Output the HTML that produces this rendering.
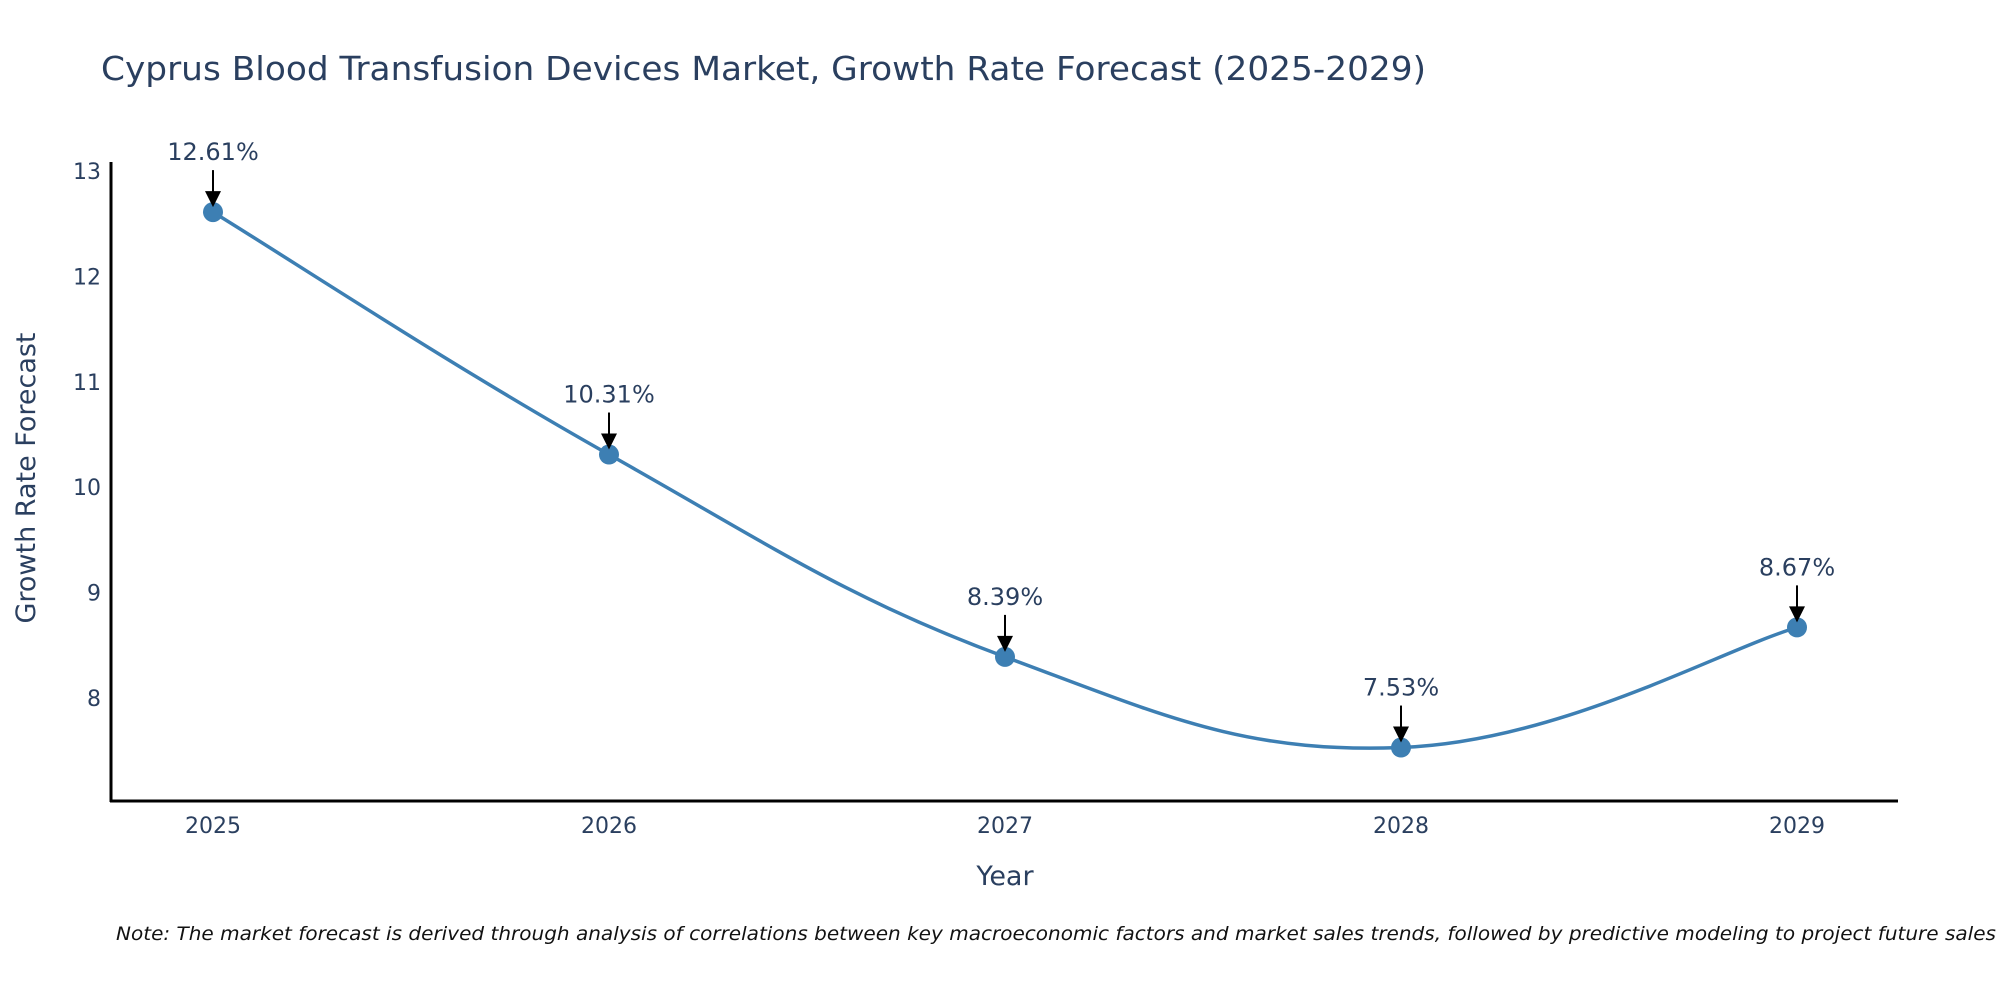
<!DOCTYPE html>
<html><head><meta charset="utf-8"><style>
body{margin:0;background:#fff}
svg text{font-family:"DejaVu Sans","Liberation Sans",sans-serif;fill:#2a3f5f}
</style></head><body>
<svg id="chart" width="2000" height="1000" viewBox="0 0 2000 1000">
<text x="101" y="80" font-size="33" textLength="1325" lengthAdjust="spacingAndGlyphs">Cyprus Blood Transfusion Devices Market, Growth Rate Forecast (2025-2029)</text>
<g id="yticks"></g><g id="xticks"></g>
<path id="line" fill="none" stroke="#3d7fb3" stroke-width="3.5"/>
<g id="points"></g>
<line x1="111" y1="162" x2="111" y2="802" stroke="#000" stroke-width="3"/>
<line x1="110" y1="801" x2="1898" y2="801" stroke="#000" stroke-width="3"/>
<text x="1005" y="885" font-size="27" text-anchor="middle">Year</text>
<text transform="translate(35,478) rotate(-90)" font-size="27" text-anchor="middle">Growth Rate Forecast</text>
<text x="116" y="940" font-size="19" font-style="italic" style="fill:#111" textLength="1880" lengthAdjust="spacingAndGlyphs">Note: The market forecast is derived through analysis of correlations between key macroeconomic factors and market sales trends, followed by predictive modeling to project future sales</text>
</svg>
<script>
const years = [2025, 2026, 2027, 2028, 2029];
const values = [12.61, 10.31, 8.39, 7.53, 8.67];
const labels = ["12.61%", "10.31%", "8.39%", "7.53%", "8.67%"];
const yTicks = [8, 9, 10, 11, 12, 13];
const NS = "http://www.w3.org/2000/svg";
function xs(v){return 213 + (v - 2025) * 396;}
function ys(v){return 698 - (v - 8) * 105.4;}
function mk(tag, attrs, parent){const e=document.createElementNS(NS,tag);for(const k in attrs)e.setAttribute(k,attrs[k]);parent.appendChild(e);return e;}
const yg=document.getElementById('yticks'), xg=document.getElementById('xticks'), pg=document.getElementById('points');
yTicks.forEach(t=>{
  const e=mk('text',{x:101,y:ys(t)+8,'font-size':22,'text-anchor':'end'},yg);
  e.textContent=t;
  
  
});
years.forEach(y=>{
  const e=mk('text',{x:xs(y),y:833,'font-size':22,'text-anchor':'middle'},xg);
  e.textContent=y;
  
  
});
const P=years.map((y,i)=>[xs(y),ys(values[i])]);
let d='M'+P[0][0]+','+P[0][1];
const s=0.2;
for(let i=0;i<P.length-1;i++){
  const p0=P[Math.max(0,i-1)],p1=P[i],p2=P[i+1],p3=P[Math.min(P.length-1,i+2)];
  const c1=[p1[0]+(p2[0]-p0[0])*s,p1[1]+(p2[1]-p0[1])*s];
  const c2=[p2[0]-(p3[0]-p1[0])*s,p2[1]-(p3[1]-p1[1])*s];
  d+=' C'+c1[0]+','+c1[1]+' '+c2[0]+','+c2[1]+' '+p2[0]+','+p2[1];
}
document.getElementById('line').setAttribute('d',d);
years.forEach((y,i)=>{
  const cx=xs(y), cy=ys(values[i]);
  const c=mk('circle',{cx:cx,cy:cy,r:10,fill:'#3d7fb3'},pg);
  
  
  const l=mk('line',{x1:cx,y1:cy-42,x2:cx,y2:cy-18,stroke:'#000','stroke-width':2},pg);
  
  
  const h=mk('path',{d:`M${cx-8},${cy-21} L${cx+8},${cy-21} L${cx},${cy-5} Z`,fill:'#000'},pg);
  
  
  const t=mk('text',{x:cx,y:cy-52,'font-size':24,'text-anchor':'middle'},pg);
  t.textContent=labels[i];
  
  
});
</script>
</body></html>
